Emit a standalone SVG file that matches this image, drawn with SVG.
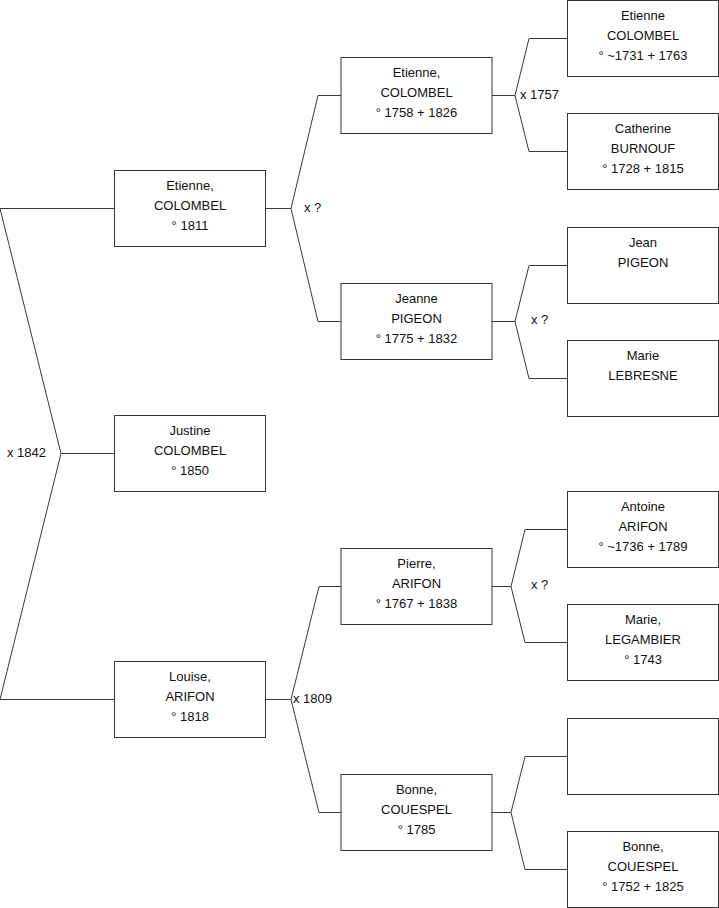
<svg xmlns="http://www.w3.org/2000/svg" width="719" height="908" viewBox="0 0 719 908">
<style>
  .box { fill: #ffffff; stroke: #333333; stroke-width: 1; }
  .t { font-family: "Liberation Sans", Arial, sans-serif; font-size: 13px; fill: #111111; text-anchor: middle; }
  .lbl { font-family: "Liberation Sans", Arial, sans-serif; font-size: 13px; fill: #111111; }
  .conn { fill: none; stroke: #3a3a3a; stroke-width: 1; }
</style>
<rect width="719" height="908" fill="#ffffff"/>
<g id="connectors">
  <polyline class="conn" points="114,208.5 0,208.5 61,453.5 0,699.5 114,699.5"/>
  <line class="conn" x1="61" y1="453.5" x2="114" y2="453.5"/>
  <polyline class="conn" points="265.5,208.5 291,208.5"/>
  <polyline class="conn" points="341,95.5 318,95.5 291,208.5 318,321.5 341,321.5"/>
  <polyline class="conn" points="265.5,699.5 291,699.5"/>
  <polyline class="conn" points="341,586.5 319,586.5 291,699.5 319,812.5 341,812.5"/>
  <polyline class="conn" points="492,95.5 515,95.5"/>
  <polyline class="conn" points="567.5,38.5 529,38.5 515,95.5 529,151.5 567.5,151.5"/>
  <polyline class="conn" points="492,321.5 515,321.5"/>
  <polyline class="conn" points="567.5,265.5 529,265.5 515,321.5 529,378.5 567.5,378.5"/>
  <polyline class="conn" points="492,586.5 511,586.5"/>
  <polyline class="conn" points="567.5,529.5 525,529.5 511,586.5 525,642.5 567.5,642.5"/>
  <polyline class="conn" points="492,812.5 511,812.5"/>
  <polyline class="conn" points="567.5,756.5 525,756.5 511,812.5 525,869.5 567.5,869.5"/>
  <text class="lbl" x="7" y="457">x 1842</text>
  <text class="lbl" x="304" y="212">x ?</text>
  <text class="lbl" x="293" y="703">x 1809</text>
  <text class="lbl" x="520" y="99">x 1757</text>
  <text class="lbl" x="531" y="324">x ?</text>
  <text class="lbl" x="531" y="589">x ?</text>
</g>
<g id="n-etienne-1811">
  <rect class="box" x="114.5" y="170.5" width="151" height="76"/>
  <text class="t" x="190" y="190">Etienne,</text>
  <text class="t" x="190" y="210">COLOMBEL</text>
  <text class="t" x="190" y="230">° 1811</text>
</g>
<g id="n-justine">
  <rect class="box" x="114.5" y="415.5" width="151" height="76"/>
  <text class="t" x="190" y="435">Justine</text>
  <text class="t" x="190" y="455">COLOMBEL</text>
  <text class="t" x="190" y="475">° 1850</text>
</g>
<g id="n-louise">
  <rect class="box" x="114.5" y="661.5" width="151" height="76"/>
  <text class="t" x="190" y="681">Louise,</text>
  <text class="t" x="190" y="701">ARIFON</text>
  <text class="t" x="190" y="721">° 1818</text>
</g>
<g id="n-etienne-1758">
  <rect class="box" x="341" y="57.5" width="151" height="76"/>
  <text class="t" x="416.5" y="77">Etienne,</text>
  <text class="t" x="416.5" y="97">COLOMBEL</text>
  <text class="t" x="416.5" y="117">° 1758 + 1826</text>
</g>
<g id="n-jeanne">
  <rect class="box" x="341" y="283.5" width="151" height="76"/>
  <text class="t" x="416.5" y="303">Jeanne</text>
  <text class="t" x="416.5" y="323">PIGEON</text>
  <text class="t" x="416.5" y="343">° 1775 + 1832</text>
</g>
<g id="n-pierre">
  <rect class="box" x="341" y="548.5" width="151" height="76"/>
  <text class="t" x="416.5" y="568">Pierre,</text>
  <text class="t" x="416.5" y="588">ARIFON</text>
  <text class="t" x="416.5" y="608">° 1767 + 1838</text>
</g>
<g id="n-bonne-1785">
  <rect class="box" x="341" y="774.5" width="151" height="76"/>
  <text class="t" x="416.5" y="794">Bonne,</text>
  <text class="t" x="416.5" y="814">COUESPEL</text>
  <text class="t" x="416.5" y="834">° 1785</text>
</g>
<g id="n-etienne-1731">
  <rect class="box" x="567.5" y="0.5" width="151" height="76"/>
  <text class="t" x="643" y="20">Etienne</text>
  <text class="t" x="643" y="40">COLOMBEL</text>
  <text class="t" x="643" y="60">° ~1731 + 1763</text>
</g>
<g id="n-catherine">
  <rect class="box" x="567.5" y="113.5" width="151" height="76"/>
  <text class="t" x="643" y="133">Catherine</text>
  <text class="t" x="643" y="153">BURNOUF</text>
  <text class="t" x="643" y="173">° 1728 + 1815</text>
</g>
<g id="n-jean">
  <rect class="box" x="567.5" y="227.5" width="151" height="76"/>
  <text class="t" x="643" y="247">Jean</text>
  <text class="t" x="643" y="267">PIGEON</text>
</g>
<g id="n-marie-lebresne">
  <rect class="box" x="567.5" y="340.5" width="151" height="76"/>
  <text class="t" x="643" y="360">Marie</text>
  <text class="t" x="643" y="380">LEBRESNE</text>
</g>
<g id="n-antoine">
  <rect class="box" x="567.5" y="491.5" width="151" height="76"/>
  <text class="t" x="643" y="511">Antoine</text>
  <text class="t" x="643" y="531">ARIFON</text>
  <text class="t" x="643" y="551">° ~1736 + 1789</text>
</g>
<g id="n-marie-legambier">
  <rect class="box" x="567.5" y="604.5" width="151" height="76"/>
  <text class="t" x="643" y="624">Marie,</text>
  <text class="t" x="643" y="644">LEGAMBIER</text>
  <text class="t" x="643" y="664">° 1743</text>
</g>
<g id="n-empty">
  <rect class="box" x="567.5" y="718.5" width="151" height="76"/>
</g>
<g id="n-bonne-1752">
  <rect class="box" x="567.5" y="831.5" width="151" height="76"/>
  <text class="t" x="643" y="851">Bonne,</text>
  <text class="t" x="643" y="871">COUESPEL</text>
  <text class="t" x="643" y="891">° 1752 + 1825</text>
</g>
</svg>
